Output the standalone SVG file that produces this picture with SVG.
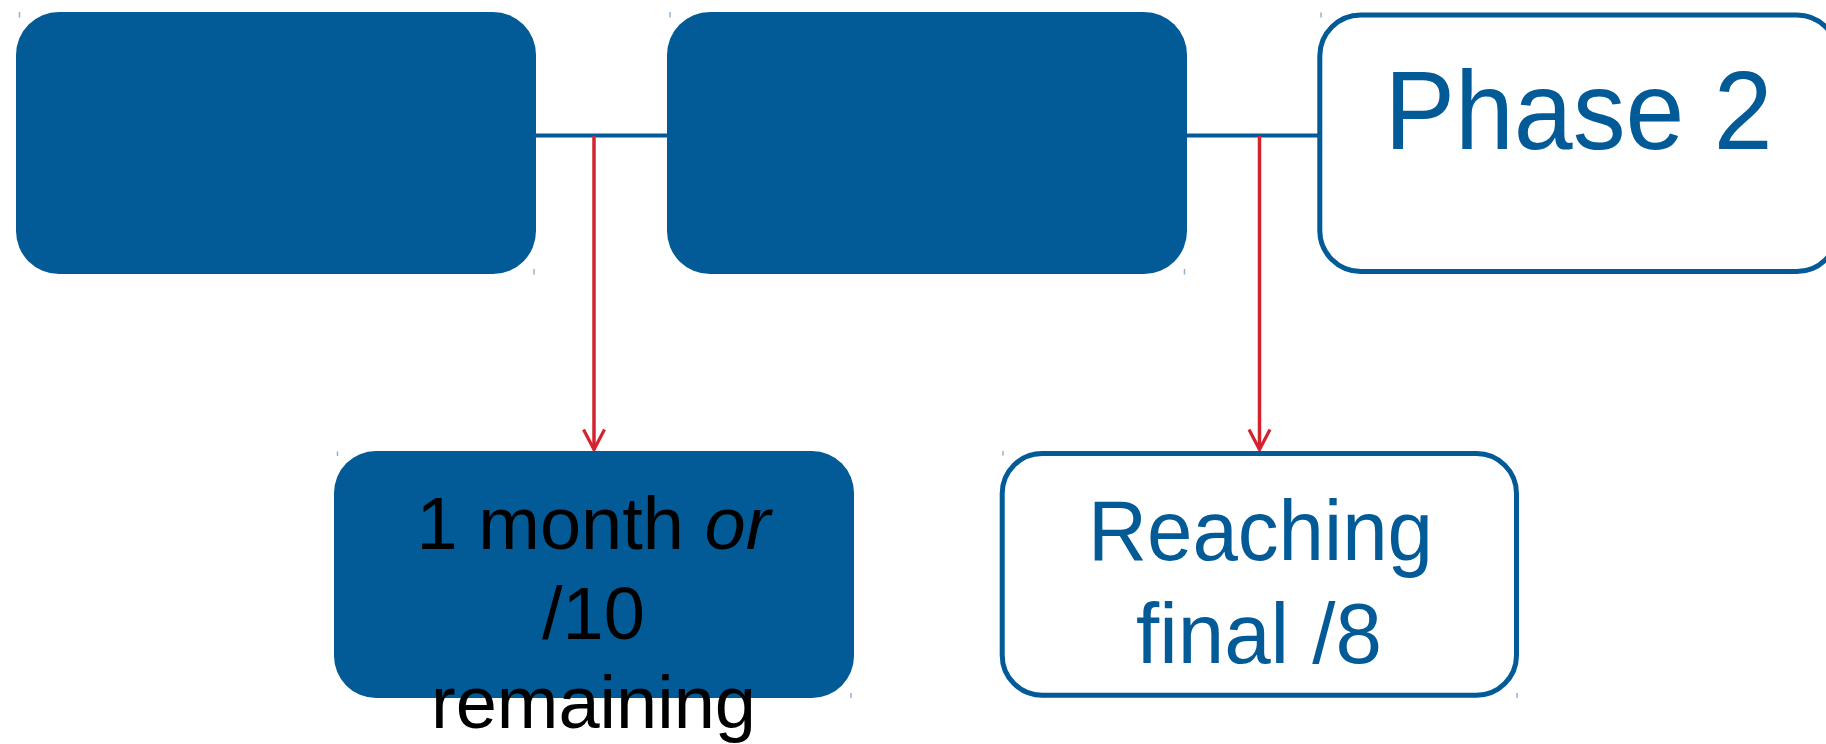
<svg xmlns="http://www.w3.org/2000/svg" width="1826" height="744" viewBox="0 0 1826 744">
<style>
.fill{fill:#025a96;}
.outline{fill:#ffffff;stroke:#025a96;stroke-width:5;}
.link{stroke:#025a96;stroke-width:4;fill:none;}
.arrow{stroke:#d3232f;stroke-width:3.5;fill:none;}
.tick{stroke:#8fb3d3;stroke-width:1.5;}
.blk{font-family:"Liberation Sans",Arial,sans-serif;font-size:74px;fill:#000000;text-anchor:middle;}
.blu{font-family:"Liberation Sans",Arial,sans-serif;fill:#025a96;text-anchor:middle;}
</style>
<defs>
<marker id="vhead" markerUnits="userSpaceOnUse" markerWidth="30" markerHeight="30" viewBox="-24 -15 30 30" refX="0" refY="0" orient="auto" overflow="visible">
<path d="M-20,-10.5 L0,0 L-20,10.5" fill="none" stroke="#d3232f" stroke-width="3.2"/>
</marker>
</defs>
<rect width="1826" height="744" fill="#ffffff"/>
<g id="connectors">
<line class="link" x1="534" y1="135.5" x2="669" y2="135.5"/>
<line class="link" x1="1185" y1="135.5" x2="1320" y2="135.5"/>
<line class="arrow" x1="594" y1="136" x2="594" y2="449.5" marker-end="url(#vhead)"/>
<line class="arrow" x1="1259.5" y1="136" x2="1259.5" y2="449.5" marker-end="url(#vhead)"/>
</g>
<g id="node1">
<rect class="fill" x="16" y="12" width="520" height="262" rx="43" ry="43"/>
<line class="tick" x1="19.5" y1="12" x2="19.5" y2="17.5"/>
<line class="tick" x1="534" y1="269" x2="534" y2="274.5"/>
</g>
<g id="node2">
<rect class="fill" x="667" y="12" width="520" height="262" rx="43" ry="43"/>
<line class="tick" x1="670" y1="12" x2="670" y2="17.5"/>
<line class="tick" x1="1184.5" y1="269" x2="1184.5" y2="274.5"/>
</g>
<g id="node3">
<rect class="outline" x="1319.8" y="15" width="518" height="256.5" rx="41" ry="41"/>
<line class="tick" x1="1321" y1="12.5" x2="1321" y2="17.5"/>
<text class="blu" x="1578.5" y="148.5" font-size="112" textLength="388" lengthAdjust="spacingAndGlyphs">Phase 2</text>
</g>
<g id="node4">
<rect class="fill" x="334" y="451" width="520" height="247" rx="42" ry="42"/>
<line class="tick" x1="337.5" y1="451.5" x2="337.5" y2="456"/>
<line class="tick" x1="851" y1="693" x2="851" y2="698"/>
<text class="blk" x="593.5" y="549.3">1 month <tspan font-style="italic">or</tspan></text>
<text class="blk" x="593.5" y="639">/10</text>
<text class="blk" x="593.5" y="728.3">remaining</text>
</g>
<g id="node5">
<rect class="outline" x="1002.2" y="453.5" width="514.3" height="241.7" rx="40" ry="40"/>
<line class="tick" x1="1003" y1="451" x2="1003" y2="455.5"/>
<line class="tick" x1="1517" y1="693" x2="1517" y2="698"/>
<text class="blu" x="1260.5" y="560" font-size="85" textLength="345" lengthAdjust="spacingAndGlyphs">Reaching</text>
<text class="blu" x="1259" y="662.7" font-size="85" textLength="246" lengthAdjust="spacingAndGlyphs">final /8</text>
</g>
</svg>
